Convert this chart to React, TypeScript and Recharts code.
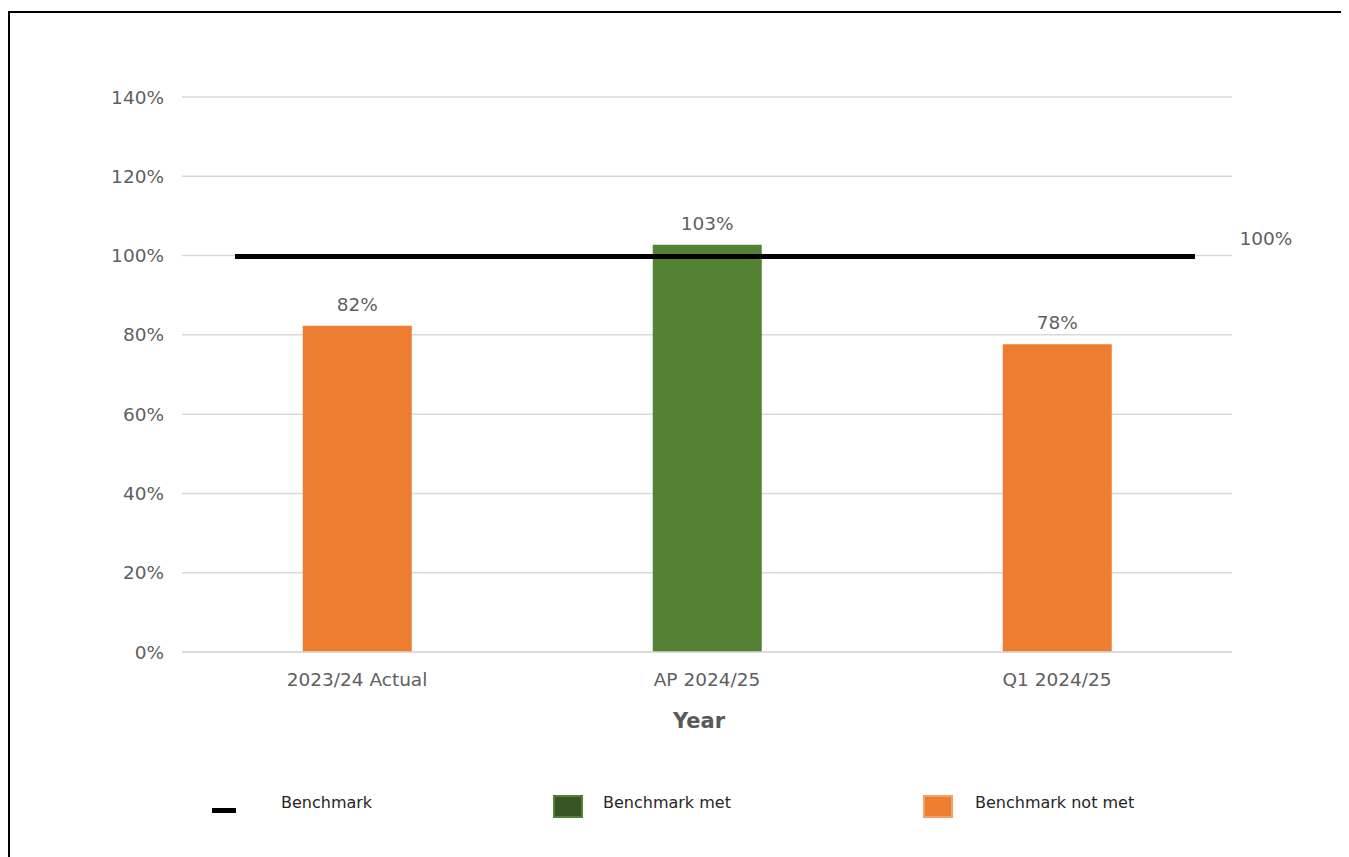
import { ComposedChart, Bar, XAxis, YAxis, CartesianGrid, ReferenceLine, LabelList, Cell } from "recharts";

const CATEGORIES = ["2023/24 Actual", "AP 2024/25", "Q1 2024/25"];
const VALUES = [82.3, 102.7, 77.6];
const BENCHMARK = 100;
const Y_TICKS = [0, 20, 40, 60, 80, 100, 120, 140];
const LEGEND_LABELS = ["Benchmark", "Benchmark met", "Benchmark not met"];

const ORANGE = "#ED7D31";
const GREEN = "#548235";
const DARK_GREEN = "#375623";
const GRID = "#d9d9d9";
const TEXT = "#5f5f5f";
const FONT = "'DejaVu Sans', sans-serif";

const data = CATEGORIES.map((name, i) => ({ name, value: VALUES[i] }));

// benchmark bar drawn a bit inside the plot, with its value at the right end
function BenchmarkShape(props: any) {
  const { x1, x2, y1 } = props;
  return (
    <g>
      <line x1={x1 + 53} x2={x2 - 37} y1={y1 + 1} y2={y1 + 1} stroke="#000" strokeWidth={5} />
      <text x={x2 + 34} y={y1 - 17} textAnchor="middle" dominantBaseline="central" fill={TEXT} fontSize={18.5} fontFamily={FONT}>
        {BENCHMARK}%
      </text>
    </g>
  );
}

function LegendRow() {
  const left = [202, 543, 913];
  const textLeft = [271, 593, 965];
  return (
    <div style={{ position: "absolute", top: 778, left: 0, width: "100%", height: 30, fontFamily: FONT, fontSize: 16, color: "#262626" }}>
      {LEGEND_LABELS.map((label, i) => (
        <div key={label}>
          {i === 0 ? (
            <div style={{ position: "absolute", left: left[i], top: 17, width: 24, height: 5, background: "#000" }} />
          ) : (
            <div
              style={{
                position: "absolute",
                left: left[i],
                top: 4,
                width: 30,
                height: 23,
                boxSizing: "border-box",
                background: i === 1 ? DARK_GREEN : ORANGE,
                border: `2px solid ${i === 1 ? GREEN : "#f4a06a"}`,
              }}
            />
          )}
          <div style={{ position: "absolute", left: textLeft[i], top: 2 }}>{label}</div>
        </div>
      ))}
    </div>
  );
}

export default function App() {
  return (
    <div style={{ paddingTop: 3 }}>
      <style>{"html,body{overflow:hidden}"}</style>
      <div style={{ position: "relative", width: 1340, height: 860, border: "2px solid #000", borderRightWidth: 3, boxSizing: "border-box", background: "#fff" }}>
        <ComposedChart width={1335} height={760} data={data} margin={{ top: 84, right: 113, left: 0, bottom: 41 }} barCategoryGap="34.5%">
          <CartesianGrid stroke={GRID} vertical={false} strokeWidth={1.5} />
          <XAxis
            dataKey="name"
            height={80}
            axisLine={{ stroke: GRID, strokeWidth: 1.5 }}
            tickLine={false}
            tickMargin={15}
            tick={{ fontSize: 18.5, fill: TEXT, fontFamily: FONT }}
            label={{ value: "Year", position: "insideBottom", offset: 4, dx: -8, fill: "#595959", fontSize: 21, fontWeight: 700, fontFamily: FONT }}
          />
          <YAxis
            width={172}
            domain={[0, 140]}
            ticks={Y_TICKS}
            axisLine={false}
            tickLine={false}
            tickMargin={12}
            tickFormatter={(v: number) => `${v}%`}
            tick={{ fontSize: 18.5, fill: TEXT, fontFamily: FONT }}
          />
          <Bar isAnimationActive={false} dataKey="value">
            {data.map((d, i) => (
              <Cell key={i} fill={d.value >= BENCHMARK ? GREEN : ORANGE} />
            ))}
            <LabelList
              dataKey="value"
              position="top"
              offset={15}
              formatter={(v: any) => `${Math.round(Number(v))}%`}
              style={{ fontSize: 18.5, fill: TEXT, fontFamily: FONT }}
            />
          </Bar>
          <ReferenceLine y={BENCHMARK} shape={BenchmarkShape} />
        </ComposedChart>
        <LegendRow />
      </div>
    </div>
  );
}
